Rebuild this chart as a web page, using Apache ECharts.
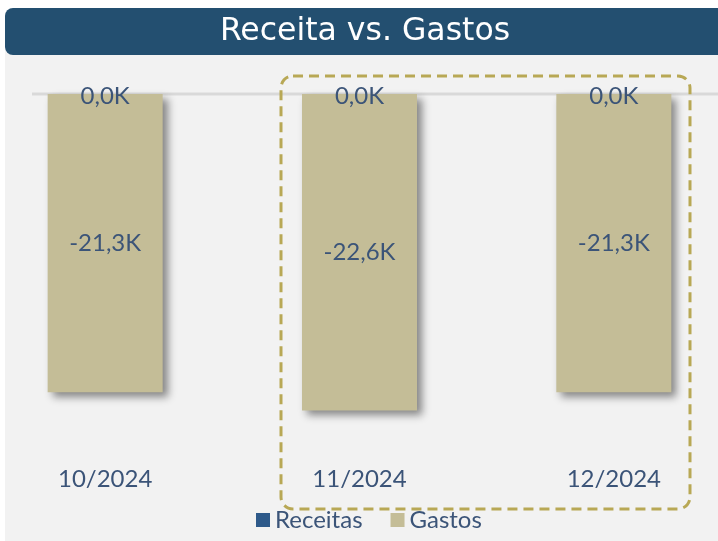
<!DOCTYPE html>
<html><head><meta charset="utf-8">
<script src="https://cdn.jsdelivr.net/npm/echarts@6/dist/echarts.min.js"></script>
<style>html,body{margin:0;padding:0;background:#fff}#c{width:718px;height:541px}</style>
</head><body><div id="c"></div>
<script>
const categories = ['10/2024', '11/2024', '12/2024'];
const receitas = [0, 0, 0];
const gastos = [-21.3, -22.6, -21.3];
const seriesNames = ['Receitas', 'Gastos'];

const fmt = v => v.toFixed(1).replace('.', ',') + 'K';
const textColor = '#3b5478';
const chart = echarts.init(document.getElementById('c'));
chart.setOption({
  backgroundColor: '#ffffff',
  animation: false,
  graphic: [
    {type: 'rect', z: -10, shape: {x: 5, y: 50, width: 720, height: 500}, style: {fill: '#f2f2f2'}},
    {type: 'rect', z: 1, shape: {x: 5, y: 8, width: 725, height: 47, r: 8}, style: {fill: '#234f70'}},
    {type: 'text', z: 2, x: 365, y: 32, style: {text: 'Receita vs. Gastos', fill: '#ffffff', font: '31.5px "DejaVu Sans"', align: 'center', verticalAlign: 'middle'}},
    {type: 'line', z: 0, shape: {x1: 32, y1: 94, x2: 718, y2: 94}, style: {stroke: '#d9d9d9', lineWidth: 3}},
    {type: 'rect', z: 5, shape: {x: 281, y: 76, width: 409, height: 433, r: 12}, style: {fill: 'none', stroke: '#b8a855', lineWidth: 3, lineDash: [10, 6]}}
  ],
  legend: {
    bottom: 4, left: 251, itemWidth: 14, itemHeight: 14, itemGap: 28,
    icon: 'rect',
    textStyle: {fontFamily: 'Lato', fontSize: 24, color: textColor},
    data: seriesNames
  },
  grid: {left: -22, right: -23, top: 94, height: 364, outerBoundsMode: 'none', containLabel: false},
  xAxis: {
    type: 'category', data: categories,
    axisLine: {show: false, onZero: false}, axisTick: {show: false},
    axisLabel: {fontFamily: 'Lato', fontSize: 24, color: textColor, margin: 9}
  },
  yAxis: {type: 'value', min: -26, max: 0, show: false, splitLine: {show: false}},
  series: [
    {
      name: seriesNames[0], type: 'bar', stack: 't', data: receitas, barWidth: 115,
      itemStyle: {color: '#2e5a8a'},
      label: {show: true, position: 'inside', offset: [0, 2], formatter: p => fmt(p.value), fontFamily: 'Lato', fontSize: 24, color: textColor},
      z: 4
    },
    {
      name: seriesNames[1], type: 'bar', stack: 't', data: gastos, barWidth: 115,
      itemStyle: {color: '#c4bd97', shadowColor: 'rgba(0,0,0,0.45)', shadowBlur: 8, shadowOffsetX: 5, shadowOffsetY: 5},
      label: {show: true, position: 'inside', formatter: p => fmt(p.value), fontFamily: 'Lato', fontSize: 24, color: textColor},
      z: 3
    }
  ]
});
</script></body></html>
